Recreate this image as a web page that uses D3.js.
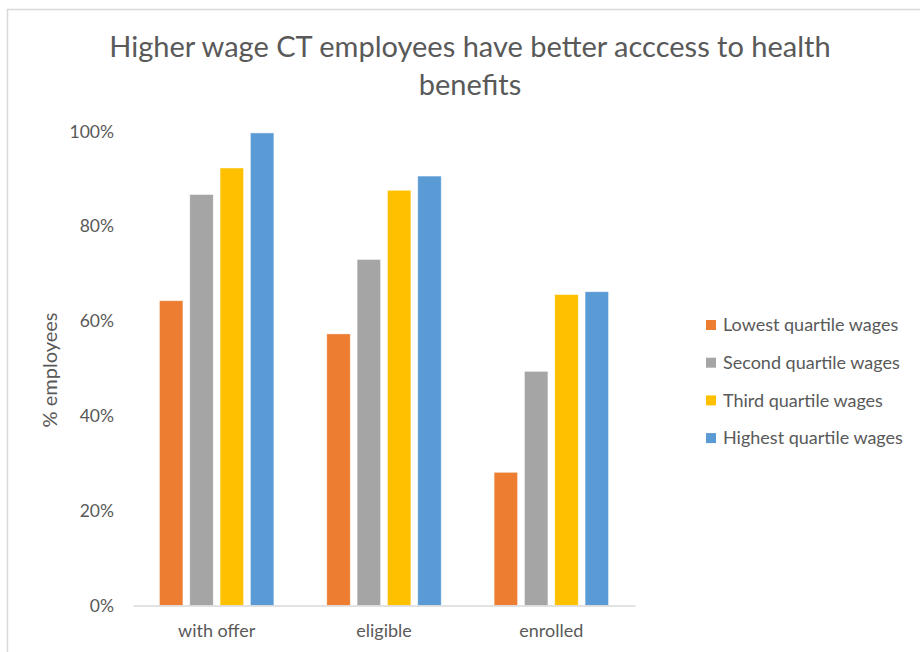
<!DOCTYPE html>
<html>
<head>
<meta charset="utf-8">
<script src="https://cdn.jsdelivr.net/npm/d3@7"></script>
<style>
  body { margin: 0; background: #fff; }
  svg { display: block; font-family: Lato, "Open Sans", sans-serif; }
</style>
</head>
<body>
<div id="chart"></div>
<script>
const width = 920;
const height = 652;

const categories = ["with offer", "eligible", "enrolled"];
const seriesNames = [
  "Lowest quartile wages",
  "Second quartile wages",
  "Third quartile wages",
  "Highest quartile wages",
];
const seriesColors = ["#ED7D31", "#A5A5A5", "#FFC000", "#5B9BD5"];

// % employees, per category, per wage quartile
const lowestValues = [0.643, 0.573, 0.281];
const secondValues = [0.867, 0.730, 0.494];
const thirdValues = [0.923, 0.876, 0.656];
const highestValues = [0.997, 0.906, 0.662];

const yTicks = [0, 0.2, 0.4, 0.6, 0.8, 1.0];

const titleLines = [
  "Higher wage CT employees have better acccess to health",
  "benefits",
];

const seriesValues = [lowestValues, secondValues, thirdValues, highestValues];
const rows = categories.map((category, i) => ({
  category,
  values: seriesNames.map((name, j) => ({ name, value: seriesValues[j][i] })),
}));

const svg = d3
  .select("#chart")
  .append("svg")
  .attr("width", width)
  .attr("height", height);

// chart area frame (cut by the screenshot on the right / bottom)
svg
  .append("rect")
  .attr("x", 7.5)
  .attr("y", 9.5)
  .attr("width", 930)
  .attr("height", 660)
  .attr("fill", "#fff")
  .attr("stroke", "#d9d9d9")
  .attr("stroke-width", 1.5);

const x0 = d3
  .scaleBand()
  .domain(categories)
  .range([133, 635])
  .paddingInner(0.316)
  .paddingOuter(0.158);

const x1 = d3
  .scaleBand()
  .domain(seriesNames)
  .range([0, x0.bandwidth()])
  .paddingInner(0.225);

const y = d3.scaleLinear().domain([0, 1]).range([605.5, 131.5]);

const color = d3.scaleOrdinal().domain(seriesNames).range(seriesColors);

svg
  .append("g")
  .selectAll("text")
  .data(titleLines)
  .join("text")
  .attr("x", 470)
  .attr("y", (d, i) => 57 + i * 38)
  .attr("text-anchor", "middle")
  .attr("font-size", 29)
  .attr("fill", "#595959")
  .text((d) => d);

// y axis labels
const yAxis = svg
  .append("g")
  .attr("transform", "translate(114,0)")
  .call(
    d3
      .axisLeft(y)
      .tickValues(yTicks)
      .tickFormat(d3.format(".0%"))
      .tickSize(0)
      .tickPadding(0),
  );
yAxis.select(".domain").remove();
yAxis
  .selectAll("text")
  .attr("font-family", "Lato, 'Open Sans', sans-serif")
  .attr("font-size", 17.5)
  .attr("fill", "#595959");

svg
  .append("text")
  .attr("transform", "translate(57,370) rotate(-90)")
  .attr("text-anchor", "middle")
  .attr("font-size", 20)
  .attr("fill", "#595959")
  .text("% employees");

// bars
const groups = svg
  .append("g")
  .selectAll("g")
  .data(rows)
  .join("g")
  .attr("transform", (d) => `translate(${x0(d.category)},0)`);

groups
  .selectAll("rect")
  .data((d) => d.values)
  .join("rect")
  .attr("x", (d) => x1(d.name))
  .attr("y", (d) => y(d.value))
  .attr("width", x1.bandwidth())
  .attr("height", (d) => y(0) - y(d.value))
  .attr("fill", (d) => color(d.name))
  .attr("stroke", "#fff")
  .attr("stroke-opacity", 0.6)
  .attr("stroke-width", 0.75);

// x axis
const xAxis = svg
  .append("g")
  .attr("transform", `translate(0,${y(0)})`)
  .call(d3.axisBottom(x0).tickSize(0).tickPadding(19));
xAxis.select(".domain").attr("stroke", "#d9d9d9").attr("stroke-width", 1.5);
xAxis
  .selectAll("text")
  .attr("font-family", "Lato, 'Open Sans', sans-serif")
  .attr("font-size", 18)
  .attr("fill", "#595959");

// legend
const legend = svg
  .append("g")
  .selectAll("g")
  .data(seriesNames)
  .join("g")
  .attr("transform", (d, i) => `translate(706,${325 + i * 37.7})`);

legend
  .append("rect")
  .attr("x", 0)
  .attr("y", -5)
  .attr("width", 10)
  .attr("height", 10)
  .attr("fill", (d) => color(d));

legend
  .append("text")
  .attr("x", 17)
  .attr("y", 0)
  .attr("dy", "0.35em")
  .attr("font-size", 18)
  .attr("fill", "#595959")
  .text((d) => d);
</script>
</body>
</html>
